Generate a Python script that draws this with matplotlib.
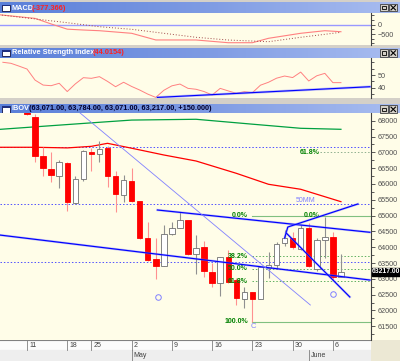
import matplotlib
matplotlib.use('Agg')
import matplotlib.pyplot as plt
import numpy as np
from matplotlib.colors import LinearSegmentedColormap
from matplotlib.patches import Rectangle
from matplotlib.transforms import blended_transform_factory

plt.rcParams['font.family'] = ['Liberation Sans', 'DejaVu Sans']

# dados: indice do pregao, 0 = 11/abr/2011
days = np.arange(40)
opens = [68700, 68130, 66893, 66463, 66252, 66672, 65388, 66157, 67000, 66947,
         67127, 66261, 65651, 66103, 65461, 64300, 63618, 63416, 64408, 64617,
         64862, 63786, 63997, 63226, 62859, 63700, 62963, 62363, 62594, 62363,
         63330, 63437, 64124, 64300, 63945, 64620, 63300, 64230, 64335, 63071]
highs = [68900, 68200, 67180, 67020, 66757, 66700, 66261, 67070, 67137, 67348,
         67200, 66410, 66283, 66495, 65470, 64807, 64282, 64703, 64788, 65104,
         64870, 64386, 64197, 63492, 63700, 63900, 63017, 62752, 62594, 63420,
         63858, 64150, 64545, 64490, 64700, 64756, 64282, 64965, 64490, 63784]
lows = [68180, 66704, 66252, 66071, 65863, 65145, 65360, 66100, 66410, 66704,
        65914, 65114, 65440, 65440, 64250, 63550, 62996, 63400, 64380, 64600,
        63750, 63143, 63068, 62752, 62457, 62859, 62173, 62070, 61650, 62363,
        63017, 63300, 64050, 63950, 63900, 63380, 63250, 63650, 62963, 63071]
closes = [68200, 66893, 66495, 66283, 66685, 65420, 66157, 67042, 66947, 67105,
          66261, 65673, 66125, 65461, 64300, 63596, 63416, 64408, 64617, 64862,
          63786, 63985, 63258, 62859, 63700, 62900, 62385, 62594, 62363, 63384,
          63440, 64100, 64282, 64000, 64617, 63420, 64230, 64335, 63067, 63217]

date_ticks = [0, 5, 8, 13, 18, 23, 28, 33, 38]
date_labels = ['11', '18', '25', '2', '9', '16', '23', '30', '6']
month_ticks = [13, 35]
month_labels = ['May', 'June']

ma_long_days = [-4, 3, 9, 13, 21, 28, 34, 39]
ma_long_vals = [67715, 67842, 67950, 68020, 68045, 67890, 67760, 67728]
ma50_days = [-4, 1, 5, 8, 10, 13, 17, 21, 26, 30, 34, 39]
ma50_vals = [67160, 67160, 67140, 67190, 67285, 67130, 66916, 66726, 66337, 65990, 65832, 65440]

macd_days = [-4, 1, 3, 5, 7, 9, 13, 16, 21, 25, 28, 30, 34, 37, 39]
macd_vals = [560, 340, 40, -240, -285, -323, -462, -820, -822, -968, -968, -731, -462, -323, -377]
signal_days = [-4, 0, 5, 9, 13, 17, 21, 25, 30, 34, 39]
signal_vals = [560, 360, 108, -108, -247, -462, -677, -823, -914, -677, -409]

rsi_days = np.arange(-3, 40)
rsi_vals = [60.0, 59.2, 57.0, 54.7, 46.0, 42.1, 41.6, 43.5, 37.0, 43.0,
            47.9, 47.4, 48.7, 45.0, 40.8, 44.3, 41.0, 38.2, 35.0, 32.4,
            38.0, 41.5, 42.9, 39.5, 38.8, 37.0, 34.3, 39.5, 37.5, 35.6,
            36.9, 36.1, 42.0, 44.3, 47.5, 49.2, 48.0, 52.3, 45.3, 49.4,
            51.3, 44.0, 44.0]
rsi_trend_days = [16.2, 42.6]
rsi_trend_vals = [32.4, 40.8]

# linhas de tendencia (dia, preco)
trend1_days, trend1_vals = [-3.4, 42.6], [64386, 62963]
trend2_days, trend2_vals = [16.2, 42.6], [65177, 64472]
thin_days, thin_vals = [6.0, 35.2], [68370, 62173]
wedgeA_days, wedgeA_vals = [32.0, 32.4, 41.1], [64292, 64639, 65367]
wedgeB_days, wedgeB_vals = [32.2, 40.1], [64450, 62427]

h_dotted = [67160, 65360, 63520]
fib_levels = [65000, 63720, 63325, 62930, 61650]
fib_labels = ['0.0%', '38.2%', '50.0%', '61.8%', '100.0%']
fib_start = 28

W, H = 400, 361
cream = '#fffde8'
grey = '#d4d0c8'
XL = (-27 / 8.05, 344 / 8.05)


def rect(x0, y0, x1, y1):
    return [x0 / W, 1 - y1 / H, (x1 - x0) / W, (y1 - y0) / H]


fig = plt.figure(figsize=(4.0, 3.61), dpi=100)
fig.patch.set_facecolor(grey)

# moldura das janelas
chrome = fig.add_axes([0, 0, 1, 1])
chrome.set_xlim(0, W)
chrome.set_ylim(H, 0)
chrome.axis('off')
bar_cmap = LinearSegmentedColormap.from_list('bar', ['#5a7fd9', '#7d9ae3', '#a9bdf0'])
grad = np.linspace(0, 1, 200).reshape(1, -1)
for y0, y1 in [(13.3, 45), (57.7, 98.3), (113.3, 340)]:
    chrome.add_patch(Rectangle((0, y0), W, y1 - y0, fc=cream, ec='none'))
for y0, y1 in [(2.7, 13), (48, 57.7), (104.3, 113.3)]:
    chrome.imshow(grad, extent=[0, W, y1, y0], aspect='auto', cmap=bar_cmap, zorder=1)
    chrome.add_patch(Rectangle((1.5, y0 + 2), 8.5, 6.3, fc='white', ec='#101040', lw=0.6, zorder=2))
    chrome.add_patch(Rectangle((1.5, y0 + 2), 8.5, 1.6, fc='#203080', ec='none', zorder=3))
    for bx in (380, 389):
        chrome.add_patch(Rectangle((bx, y0 + 1), 8, 7.6, fc=grey, ec='#404040', lw=0.6, zorder=2))
    chrome.add_patch(Rectangle((381.8, y0 + 3.3), 4, 3.4, fc='none', ec='black', lw=0.6, zorder=3))
    chrome.plot([391, 395.5], [y0 + 2.8, y0 + 7.2], color='black', lw=0.8, zorder=3)
    chrome.plot([391, 395.5], [y0 + 7.2, y0 + 2.8], color='black', lw=0.8, zorder=3)

tkw = dict(fontsize=5.3, fontweight='bold', va='center', zorder=4)
chrome.text(11.5, 8, 'MACD', color='white', **tkw)
chrome.text(32, 8, '(-377.366)', color='#ff2020', **tkw)
chrome.text(11.5, 53, 'Relative Strength Index', color='white', **tkw)
chrome.text(93, 53, '(44.0154)', color='#ff2020', **tkw)
chrome.text(11.5, 108.8, 'IBOV', color='white', **tkw)
chrome.text(29, 108.8, '(63,071.00, 63,784.00, 63,071.00, 63,217.00, +150.000)', color='#000030', **tkw)
chrome.add_patch(Rectangle((371, 340), 29, 21, fc='#ece8d4', ec='none'))


def style_panel(ax, ylim):
    ax.set_facecolor(cream)
    ax.set_xlim(*XL)
    ax.set_ylim(*ylim)
    for s in ('top', 'left', 'bottom'):
        ax.spines[s].set_visible(False)
    ax.spines['right'].set_color('#404040')
    ax.spines['right'].set_linewidth(0.8)
    ax.yaxis.tick_right()
    ax.set_xticks([])
    ax.tick_params(axis='y', which='both', direction='out', colors='#404040',
                   labelcolor='#505050', labelsize=5.2, pad=2, width=0.6)
    ax.tick_params(axis='y', which='major', length=3)
    ax.tick_params(axis='y', which='minor', length=2)


# MACD
ax1 = fig.add_axes(rect(0, 13.3, 371, 45))
style_panel(ax1, (-1091, 613))
ax1.set_yticks([0, -500])
ax1.set_yticks([500, 250, -250, -750, -1000], minor=True)
ax1.axhline(0, color='#9999ff', lw=1.0)
ax1.plot(macd_days, macd_vals, color='#ff8080', lw=0.8)
ax1.plot(signal_days, signal_vals, color='#a04848', lw=0.7, ls=(0, (1, 2)))

# IFR
ax2 = fig.add_axes(rect(0, 57.7, 371, 98.3))
style_panel(ax2, (31.7, 63.6))
ax2.set_yticks([50, 40])
ax2.set_yticks([60, 55, 45, 35], minor=True)
ax2.plot(rsi_days, rsi_vals, color='#ff8080', lw=0.7)
ax2.plot(rsi_trend_days, rsi_trend_vals, color='#8080ff', lw=1.8, alpha=0.5)
ax2.plot(rsi_trend_days, rsi_trend_vals, color='#0000ff', lw=0.8)

# IBOV
ax = fig.add_axes(rect(0, 113.3, 371, 340))
style_panel(ax, (61067, 68234))
ax.set_yticks(np.arange(61500, 68001, 500))
ax.set_yticks(np.arange(61250, 68001, 500), minor=True)
ax.yaxis.set_major_formatter(matplotlib.ticker.FormatStrFormatter('%d'))

for lv in h_dotted:
    ax.axhline(lv, color='#5050ff', lw=0.7, ls=(0, (1.5, 2)))

ax.plot(ma_long_days, ma_long_vals, color='#00a040', lw=0.9)
ax.plot(ma50_days, ma50_vals, color='#ff0000', lw=0.9)

for d, o, h, l, c in zip(days, opens, highs, lows, closes):
    up = c >= o
    ax.vlines(d, l, h, color='#909090' if up else '#ff9090', lw=0.8, zorder=3)
    ax.add_patch(Rectangle((d - 0.34, min(o, c)), 0.68, max(abs(c - o), 20),
                           fc='white' if up else '#ff0000',
                           ec='#707070' if up else '#ff0000', lw=0.6, zorder=4))

# fibonacci
for lv, lb in zip(fib_levels, fib_labels):
    solid = lb in ('0.0%', '100.0%')
    ax.plot([fib_start, XL[1]], [lv, lv], color='#80c080' if solid else '#60b060',
            lw=0.8 if solid else 0.7, ls='-' if solid else (0, (1.5, 2)), zorder=2)
    ax.text(fib_start - 0.55, lv, lb, color='#008000', fontsize=5, fontweight='bold',
            ha='right', va='center', zorder=5)
ax.text(34.4, 65000, '0.0%', color='#008000', fontsize=5, fontweight='bold', va='center', zorder=5)
ax.text(33.9, 67000, '61.8%', color='#008000', fontsize=5, fontweight='bold', va='center', zorder=5)
ax.plot([36.4, XL[1]], [67000, 67000], color='#90b090', lw=0.7, ls=(0, (1.5, 2)))
ax.text(33.4, 65493, '50MM', color='#8080ff', fontsize=5, va='center')

for dd, vv in [(trend1_days, trend1_vals), (trend2_days, trend2_vals),
               (wedgeA_days, wedgeA_vals), (wedgeB_days, wedgeB_vals)]:
    ax.plot(dd, vv, color='#8080ff', lw=1.7, alpha=0.45, zorder=6)
    ax.plot(dd, vv, color='#0000ff', lw=0.85, zorder=6)
ax.plot(thin_days, thin_vals, color='#8080ff', lw=0.6, zorder=6)

ax.plot([16.3, 38.0], [62426, 62521], ls='none', marker='o', ms=4, mfc='none', mec='#8080ff', mew=0.7)
ax.text(28.07, 61478, 'C', color='#8080ff', fontsize=5.5, ha='center', va='center')

tr = blended_transform_factory(ax.transAxes, ax.transData)
ax.text(1.003, closes[-1], '%.2f' % closes[-1], transform=tr, color='white', fontsize=4.9,
        fontweight='bold', va='center', ha='left',
        bbox=dict(boxstyle='square,pad=0.08', fc='black', ec='black'),
        clip_on=False, zorder=7)

# eixo de datas
axd = fig.add_axes(rect(0, 340, 371, 361))
axd.set_xlim(*XL)
axd.set_ylim(21, 0)
axd.axis('off')
axd.axhspan(0, 10, color='#fbfbfb')
axd.axhspan(10, 21, color='#eeeeee')
axd.axhline(0, color='#808080', lw=0.8)
for d, lb in zip(date_ticks, date_labels):
    axd.plot([d, d], [0, 10], color='#808080', lw=0.6)
    axd.text(d + 0.25, 5.5, lb, fontsize=5, color='#404040', va='center', ha='left')
for d, lb in zip(month_ticks, month_labels):
    axd.plot([d, d], [10, 21], color='#808080', lw=0.6)
    axd.text(d + 0.25, 15.5, lb, fontsize=5, color='#404040', va='center', ha='left')

fig.savefig('out.png', dpi=100, facecolor=fig.get_facecolor())
